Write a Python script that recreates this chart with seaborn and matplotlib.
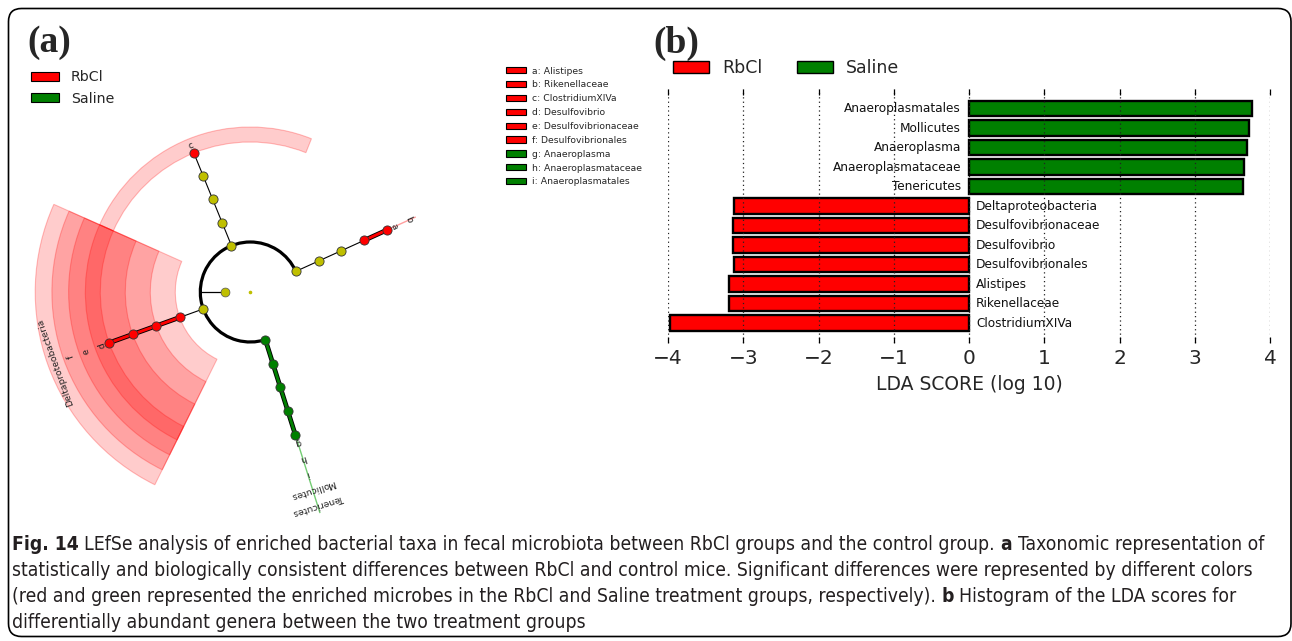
import numpy as np
import pandas as pd
import matplotlib
matplotlib.use("Agg")
import matplotlib.pyplot as plt
import seaborn as sns
from matplotlib.patches import Wedge, Arc, Patch, FancyBboxPatch
from matplotlib import font_manager as fm

# ---------------- data ----------------
taxa = ["Anaeroplasmatales", "Mollicutes", "Anaeroplasma", "Anaeroplasmataceae", "Tenericutes",
        "Deltaproteobacteria", "Desulfovibrionaceae", "Desulfovibrio", "Desulfovibrionales",
        "Alistipes", "Rikenellaceae", "ClostridiumXIVa"]
lda_scores = [3.76, 3.72, 3.69, 3.65, 3.64, -3.12, -3.13, -3.13, -3.12, -3.19, -3.19, -3.98]
taxa_groups = ["Saline"] * 5 + ["RbCl"] * 7

group_names = ["RbCl", "Saline"]
group_colors = ["#ff0000", "#008000"]

clade_letters = ["a", "b", "c", "d", "e", "f", "g", "h", "i"]
clade_names = ["Alistipes", "Rikenellaceae", "ClostridiumXIVa", "Desulfovibrio",
               "Desulfovibrionaceae", "Desulfovibrionales", "Anaeroplasma",
               "Anaeroplasmataceae", "Anaeroplasmatales"]
clade_groups = ["RbCl"] * 6 + ["Saline"] * 3

# cladogram: four phylum branches, levels phylum -> genus
branch_groups = [
    [None, None, None, "RbCl", "RbCl"],
    [None, None, None, None, "RbCl"],
    [None, "RbCl", "RbCl", "RbCl", "RbCl"],
    ["Saline", "Saline", "Saline", "Saline", "Saline"],
]
branch_labels = [
    [None, None, None, "b", "a"],
    [None, None, None, None, "c"],
    [None, "Deltaproteobacteria", "f", "e", "d"],
    ["Tenericutes", "Mollicutes", "i", "h", "g"],
]
branch_wide = [False, True, True, False]

caption_lines = [
    [("Fig. 14", True), ("LEfSe analysis of enriched bacterial taxa in fecal microbiota between RbCl groups and the control group.", False),
     ("a", True), ("Taxonomic representation of", False)],
    [("statistically and biologically consistent differences between RbCl and control mice. Significant differences were represented by different colors", False)],
    [("(red and green represented the enriched microbes in the RbCl and Saline treatment groups, respectively).", False),
     ("b", True), ("Histogram of the LDA scores for", False)],
    [("differentially abundant genera between the two treatment groups", False)],
]

# ---------------- setup ----------------
sns.set_style("white")
plt.rcParams["font.family"] = ["DejaVu Sans"]
pal = dict(zip(group_names, group_colors))
YEL = (0.75, 0.75, 0.0)

W, H = 1292, 641
fig = plt.figure(figsize=(W / 100, H / 100), dpi=100)
ov = fig.add_axes([0, 0, 1, 1], zorder=0)
ov.set_xlim(0, W)
ov.set_ylim(0, H)
ov.axis("off")


def Y(s):
    return H - s


names = {f.name for f in fm.fontManager.ttflist}
if "Liberation Sans Narrow" in names:
    cap_family, cap_stretch = "Liberation Sans Narrow", "normal"
else:
    cap_family, cap_stretch = "DejaVu Sans", "condensed"
serif = "Liberation Serif" if "Liberation Serif" in names else "DejaVu Serif"

# ---------------- frame ----------------
frame = FancyBboxPatch((8.5, Y(636.5)), 1282.5, 628, boxstyle="round,pad=0,rounding_size=13",
                       fc="none", ec="black", lw=1.2, zorder=0)
ov.add_patch(frame)

# ---------------- cladogram (a) ----------------
cx, cy = 250.3, Y(292)
r0, dr = 50.0, 25.0
angles = [24.4 + 87.7 * k for k in range(len(branch_groups))]
half = 87.7 / 2


def P(r, a):
    t = np.radians(a)
    return cx + r * np.cos(t), cy + r * np.sin(t)


def r_level(l):
    return r0 + dr * l


def r_outer(l):
    return 165.0 + 16.7 * (4 - l)


def r_label(l):
    return 157.5 + 16.5 * (4 - l)


# highlights
for a, grp, wide in zip(angles, branch_groups, branch_wide):
    sig = [l for l, g in enumerate(grp) if g is not None]
    if not sig:
        continue
    col = pal[grp[sig[0]]]
    if wide:
        for l in sig:
            w = Wedge((cx, cy), r_outer(l), a - half, a + half, width=r_outer(l) - r_level(l),
                      facecolor=matplotlib.colors.to_rgba(col, 0.2),
                      edgecolor=matplotlib.colors.to_rgba(col, 0.25), lw=0.8, zorder=1)
            ov.add_patch(w)
    else:
        lcol = (1, 0.62, 0.62) if grp[sig[0]] == "RbCl" else (0.45, 0.8, 0.45)
        x1, y1 = P(r_level(4), a)
        x2, y2 = P(r_outer(min(sig)), a)
        ov.plot([x1, x2], [y1, y2], color=lcol, lw=1.0, zorder=1.5, solid_capstyle="butt")

# main arc and kingdom stub
ov.add_patch(Arc((cx, cy), 2 * r0, 2 * r0, theta1=angles[0], theta2=angles[-1], lw=2.3, color="black", zorder=2))
xa, ya = P(r0, 180)
xb, yb = P(r0 / 2, 180)
ov.plot([xa, xb], [ya, yb], color="black", lw=0.9, zorder=2)
ov.plot([xb], [yb], "o", ms=6.4, mfc=YEL, mec="#555555", mew=0.5, zorder=3)
ov.plot([cx], [cy], "o", ms=1.6, mfc=YEL, mec=YEL, zorder=3)

for a, grp, labs in zip(angles, branch_groups, branch_labels):
    for l in range(1, 5):
        x1, y1 = P(r_level(l - 1), a)
        x2, y2 = P(r_level(l), a)
        if grp[l] is not None and grp[l - 1] == grp[l]:
            ov.plot([x1, x2], [y1, y2], color="black", lw=3.4, zorder=2, solid_capstyle="butt")
            ov.plot([x1, x2], [y1, y2], color=pal[grp[l]], lw=2.1, zorder=2.1, solid_capstyle="butt")
        else:
            ov.plot([x1, x2], [y1, y2], color="black", lw=0.8, zorder=2)
    for l in range(5):
        x, y = P(r_level(l), a)
        fc = pal[grp[l]] if grp[l] is not None else YEL
        ov.plot([x], [y], "o", ms=6.6, mfc=fc, mec="#333333", mew=0.6, zorder=3)
        if labs[l] is not None:
            tx, ty = P(r_label(l), a)
            ov.text(tx, ty, labs[l], fontsize=6.6, rotation=a - 90, rotation_mode="anchor",
                    ha="center", va="center", color="#222222", zorder=4)

# legends for (a)
leg_a = ov.legend(handles=[Patch(facecolor=c, edgecolor="black", lw=0.8, label=n) for n, c in zip(group_names, group_colors)],
                  loc="center left", bbox_to_anchor=(31, Y(88)), bbox_transform=ov.transData,
                  frameon=False, fontsize=10.2, handlelength=1.95, handleheight=0.6, handletextpad=0.85,
                  labelspacing=0.5, borderpad=0, borderaxespad=0)
ov.add_artist(leg_a)

leg_c = ov.legend(handles=[Patch(facecolor=pal[g], edgecolor="black", lw=0.8, label=f"{k}: {n}")
                           for k, n, g in zip(clade_letters, clade_names, clade_groups)],
                  loc="center left", bbox_to_anchor=(506, Y(126.5)), bbox_transform=ov.transData,
                  frameon=False, fontsize=6.7, handlelength=2.1, handleheight=0.65, handletextpad=0.7,
                  labelspacing=0.52, borderpad=0, borderaxespad=0)
ov.add_artist(leg_c)

# panel labels
ov.text(27, Y(43), "(a)", fontsize=27, family=serif, fontweight="bold", va="center", ha="left")
ov.text(653, Y(43), "(b)", fontsize=27, family=serif, fontweight="bold", va="center", ha="left")

# ---------------- bar chart (b) ----------------
x0, x1p = 668, 1270
top, bot = 89.2, 342.5
axb = fig.add_axes([x0 / W, 1 - bot / H, (x1p - x0) / W, (bot - top) / H], zorder=2)
axb.set_facecolor("none")
df = pd.DataFrame({"taxon": taxa, "lda": lda_scores, "group": taxa_groups})
sns.barplot(data=df, x="lda", y="taxon", hue="group", palette=pal, dodge=False, width=0.8,
            saturation=1, edgecolor="black", linewidth=1.7, legend=False, ax=axb, orient="h")
axb.set_xlim(-4, 4)
axb.set_ylim(len(taxa), -1)
axb.set_xticks(range(-4, 5))
axb.set_yticks([])
axb.set_ylabel("")
for s in axb.spines.values():
    s.set_visible(False)
axb.tick_params(axis="x", direction="in", top=True, bottom=True, length=4.5, width=0.9,
                labelsize=14.5, pad=4.5, color="black")
axb.grid(axis="x", color="#222222", linestyle=(0, (1, 2.5)), lw=0.9)
axb.grid(axis="y", visible=False)
axb.set_axisbelow(False)
axb.xaxis.set_zorder(5)
axb.set_xlabel("LDA SCORE (log 10)", fontsize=13.5, labelpad=5)

for i, (t, v) in enumerate(zip(taxa, lda_scores)):
    if v >= 0:
        axb.annotate(t, xy=(0, i), xytext=(-8, 0), textcoords="offset pixels", ha="right", va="center",
                     fontsize=9.7, fontstretch="condensed", color="#111111")
    else:
        axb.annotate(t, xy=(0, i), xytext=(7, 0), textcoords="offset pixels", ha="left", va="center",
                     fontsize=9.7, fontstretch="condensed", color="#111111")

leg_b = ov.legend(handles=[Patch(facecolor=c, edgecolor="black", lw=1.0, label=n) for n, c in zip(group_names, group_colors)],
                  loc="center left", bbox_to_anchor=(673, Y(68)), bbox_transform=ov.transData, ncol=2,
                  frameon=False, fontsize=12.5, handlelength=2.05, handleheight=0.7, handletextpad=0.78,
                  columnspacing=2.0, borderpad=0, borderaxespad=0)

# ---------------- caption ----------------
renderer = fig.canvas.get_renderer()
cap_color = "#231f20"


def draw_line(x, ybase, pieces, fs):
    t1 = ov.text(0, 0, "x x", fontsize=fs, family=cap_family, fontstretch=cap_stretch)
    t2 = ov.text(0, 0, "xx", fontsize=fs, family=cap_family, fontstretch=cap_stretch)
    sw = t1.get_window_extent(renderer).width - t2.get_window_extent(renderer).width
    t1.remove()
    t2.remove()
    arts = []
    cur = x
    for s, b in pieces:
        t = ov.text(cur, ybase, s, fontsize=fs, family=cap_family, fontstretch=cap_stretch,
                    fontweight="bold" if b else "normal", va="baseline", ha="left", color=cap_color)
        cur += t.get_window_extent(renderer).width + sw
        arts.append(t)
    return arts, cur - sw - x


arts, wid = draw_line(12, Y(550), caption_lines[0], 12)
for a_ in arts:
    a_.remove()
fs_cap = 12 * (1253.0 / wid)
baselines = [550, 576, 602, 628]
for pieces, yb in zip(caption_lines, baselines):
    draw_line(12, Y(yb), pieces, fs_cap)

fig.savefig("out.png", dpi=100)
